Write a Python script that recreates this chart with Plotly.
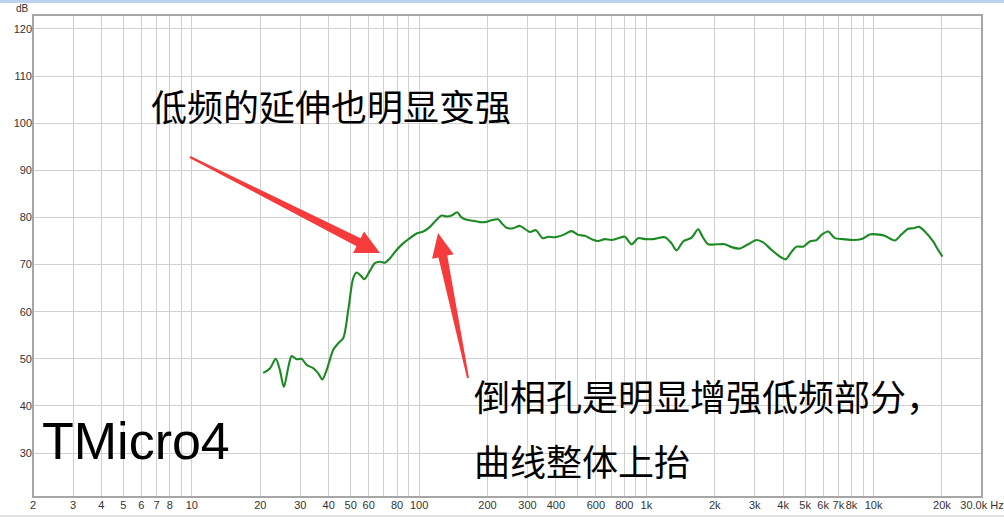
import math
import plotly.graph_objects as go

# ---- data ----
freq_hz = [20.6, 22.1, 23.4, 24.4, 25.4, 26.6, 27.5, 28.9, 30.4, 32.0,
           34.2, 36.0, 37.5, 39.2, 41.9, 44.1, 46.4, 48.8, 51.3, 53.1,
           55.5, 57.4, 60.8, 63.9, 67.3, 70.8, 74.4, 79.6, 85.1, 91.1,
           97.5, 104.3, 111.6, 119.4, 125.6, 132.2, 139.0, 147.1, 153.8, 161.8,
           173.0, 185.2, 194.8, 204.9, 222.9, 230.7, 242.7, 259.5, 277.8, 307.4,
           326.6, 349.7, 370.0, 395.9, 430.6, 468.8, 501.2, 536.5, 574.2, 613.8,
           657.0, 703.1, 751.6, 804.5, 861.2, 920.6, 985.3, 1072, 1207, 1291,
           1358, 1452, 1581, 1691, 1768, 1871, 2036, 2215, 2372, 2579,
           2806, 3056, 3267, 3557, 3868, 4098, 4355, 4582, 4897, 5240,
           5610, 5902, 6309, 6754, 7345, 8128, 8849, 9626, 10300, 11200,
           12400, 13260, 14190, 14920, 15860, 16810, 18280, 19230, 20100]
spl_db = [47.0, 48.0, 50.0, 47.6, 44.0, 48.3, 50.6, 49.9, 50.0, 48.7,
          48.0, 46.9, 45.6, 47.6, 51.9, 53.3, 54.4, 60.4, 67.1, 68.3,
          67.6, 66.9, 68.7, 70.3, 70.6, 70.4, 71.3, 73.1, 74.5, 75.6,
          76.6, 77.0, 78.0, 79.5, 80.4, 80.2, 80.4, 81.1, 80.0, 79.5,
          79.3, 79.0, 79.0, 79.3, 79.6, 78.8, 77.8, 77.7, 78.2, 76.9,
          77.3, 75.6, 75.9, 75.8, 76.3, 77.1, 76.3, 76.1, 75.4, 75.0,
          75.4, 75.2, 75.6, 75.9, 74.3, 75.6, 75.4, 75.4, 75.8, 74.5,
          73.0, 74.9, 75.7, 77.5, 75.9, 74.3, 74.3, 74.3, 73.7, 73.4,
          74.3, 75.2, 74.7, 73.1, 71.7, 71.1, 72.7, 73.8, 73.8, 74.9,
          75.2, 76.3, 77.0, 75.6, 75.4, 75.2, 75.4, 76.4, 76.4, 76.1,
          75.1, 76.4, 77.6, 77.7, 78.0, 77.0, 74.9, 73.1, 71.7]

x_tick_vals = [2, 3, 4, 5, 6, 7, 8, 9,
               10, 20, 30, 40, 50, 60, 70, 80, 90,
               100, 200, 300, 400, 500, 600, 700, 800, 900,
               1000, 2000, 3000, 4000, 5000, 6000, 7000, 8000, 9000,
               10000, 20000, 30000]
x_tick_text = ["2", "3", "4", "5", "6", "7", "8", "",
               "10", "20", "30", "40", "50", "60", "", "80", "",
               "100", "200", "300", "400", "", "600", "", "800", "",
               "1k", "2k", "3k", "4k", "5k", "6k", "7k", "8k", "",
               "10k", "20k", "30.0k Hz"]
y_tick_vals = [30, 40, 50, 60, 70, 80, 90, 100, 110, 120]

note_top = "低频的延伸也明显变强"
note_right_1 = "倒相孔是明显增强低频部分，"
note_right_2 = "曲线整体上抬"
model_name = "TMicro4"

W, H = 1004, 522
ML, MR, MT, MB = 33, 22, 15, 25
PW, PH = W - ML - MR, H - MT - MB


def px(xp):
    return (xp - ML) / PW


def py(yp):
    return (H - MB - yp) / PH


def tapered_arrow(tail, tip, head_len, head_half, w_tail, w_base):
    """Filled arrow path (paper coords) from tail to tip, shaft widening toward the head."""
    dx, dy = tip[0] - tail[0], tip[1] - tail[1]
    L = math.hypot(dx, dy)
    ux, uy = dx / L, dy / L
    nx, ny = -uy, ux
    bx, by = tip[0] - head_len * ux, tip[1] - head_len * uy
    pts = [
        (tail[0] + nx * w_tail, tail[1] + ny * w_tail),
        (bx + nx * w_base, by + ny * w_base),
        (bx + nx * head_half, by + ny * head_half),
        tip,
        (bx - nx * head_half, by - ny * head_half),
        (bx - nx * w_base, by - ny * w_base),
        (tail[0] - nx * w_tail, tail[1] - ny * w_tail),
    ]
    return "M " + " L ".join(f"{px(a):.5f},{py(b):.5f}" for a, b in pts) + " Z"


fig = go.Figure()
fig.add_trace(go.Scatter(
    x=freq_hz, y=spl_db, mode="lines",
    line=dict(color="#1b8a22", width=2.1, shape="spline", smoothing=0.8),
    hoverinfo="skip", showlegend=False))

cjk = "Noto Sans CJK SC"
ann = [
    dict(text=note_top, x=px(149), y=py(105), xanchor="left", yanchor="middle",
         font=dict(family=cjk, size=36, color="#000000")),
    dict(text=note_right_1, x=px(472), y=py(395), xanchor="left", yanchor="middle",
         font=dict(family=cjk, size=36, color="#000000")),
    dict(text=note_right_2, x=px(472), y=py(460), xanchor="left", yanchor="middle",
         font=dict(family=cjk, size=36, color="#000000")),
    dict(text=model_name, x=px(40), y=py(441), xanchor="left", yanchor="middle",
         font=dict(family="Liberation Sans", size=52, color="#000000")),
    dict(text="dB", x=px(22), y=py(8), xanchor="center", yanchor="middle",
         font=dict(family="Liberation Sans", size=10, color="#333333")),
]
for a in ann:
    a.update(xref="paper", yref="paper", showarrow=False)

red = "#f53b3b"
shapes = [
    # window title strip
    dict(type="rect", xref="paper", yref="paper", x0=px(0), x1=px(W),
         y0=py(3), y1=py(0), fillcolor="#bcd3ee", line=dict(width=0), layer="below"),
    # bottom UI strip line
    dict(type="line", xref="paper", yref="paper", x0=px(0), x1=px(W),
         y0=py(516), y1=py(516), line=dict(color="#c8c8c8", width=1)),
    # plot frame
    dict(type="rect", xref="paper", yref="paper", x0=0, x1=1, y0=0, y1=1,
         line=dict(color="#a6a6a6", width=2), layer="above"),
    # red pointer arrows
    dict(type="path", xref="paper", yref="paper",
         path=tapered_arrow((190, 157), (380, 253), 24, 12, 1.0, 4.5),
         fillcolor=red, line=dict(width=0), layer="above"),
    dict(type="path", xref="paper", yref="paper",
         path=tapered_arrow((468, 378), (438, 233), 24, 11, 1.0, 4.5),
         fillcolor=red, line=dict(width=0), layer="above"),
]

fig.update_layout(
    width=W, height=H,
    margin=dict(l=ML, r=MR, t=MT, b=MB, pad=0, autoexpand=False),
    paper_bgcolor="#ffffff", plot_bgcolor="#ffffff",
    annotations=ann, shapes=shapes,
    xaxis=dict(type="log", range=[0.30103, 4.4771], automargin=False,
               tickvals=x_tick_vals, ticktext=x_tick_text, ticks="",
               showgrid=True, gridcolor="#d0d0d0", gridwidth=1,
               zeroline=False, showline=False,
               tickfont=dict(family="Liberation Sans", size=11, color="#333333"),
               tickangle=0),
    yaxis=dict(range=[20.66, 122.97], tickvals=y_tick_vals, ticks="", automargin=False,
               showgrid=True, gridcolor="#d0d0d0", gridwidth=1,
               zeroline=False, showline=False,
               tickfont=dict(family="Liberation Sans", size=11, color="#333333")),
)

fig.write_html("out.html",
               config={"displayModeBar": False},
               post_script="document.body.style.margin='0px';"
                           "document.body.style.overflow='hidden';")
